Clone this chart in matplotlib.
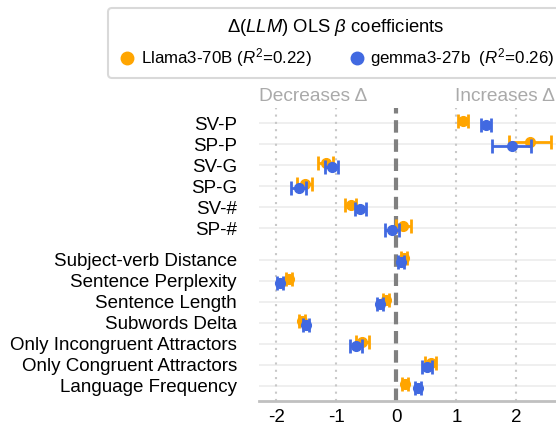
import numpy as np
import matplotlib
matplotlib.use("Agg")
import matplotlib.pyplot as plt
from matplotlib.lines import Line2D

plt.rcParams['font.family'] = ['Liberation Sans', 'DejaVu Sans']
plt.rcParams['mathtext.fontset'] = 'custom'
plt.rcParams['mathtext.rm'] = 'Liberation Sans'
plt.rcParams['mathtext.it'] = 'Liberation Sans:italic'
plt.rcParams['mathtext.bf'] = 'Liberation Sans:bold'

# predictors, top to bottom
features = ['SV-P', 'SP-P', 'SV-G', 'SP-G', 'SV-#', 'SP-#',
            'Subject-verb Distance', 'Sentence Perplexity', 'Sentence Length',
            'Subwords Delta', 'Only Incongruent Attractors',
            'Only Congruent Attractors', 'Language Frequency']

# Llama3-70B coefficients and half-width of CI
llama_coef = [1.11, 2.23, -1.18, -1.53, -0.76, 0.11,
              0.12, -1.79, -0.18, -1.57, -0.57, 0.57, 0.14]
llama_err = [0.08, 0.35, 0.12, 0.12, 0.09, 0.125,
             0.05, 0.05, 0.05, 0.05, 0.11, 0.095, 0.05]

# gemma3-27b coefficients and half-width of CI
gemma_coef = [1.49, 1.92, -1.08, -1.63, -0.60, -0.07,
              0.08, -1.94, -0.28, -1.51, -0.67, 0.51, 0.36]
gemma_err = [0.08, 0.33, 0.11, 0.12, 0.09, 0.12,
             0.05, 0.05, 0.05, 0.05, 0.10, 0.09, 0.05]

xticks = [-2, -1, 0, 1, 2]

orange = '#FFA500'
blue = '#4169E1'

# row positions: gap between the two groups
ypos = np.array([0, 1, 2, 3, 4, 5, 6.5, 7.5, 8.5, 9.5, 10.5, 11.5, 12.5])

fig = plt.figure(figsize=(5.56, 4.28), dpi=100)
ax = fig.add_axes([259/556, 27/428, 297/556, 293/428])

# horizontal row lines
for y in ypos:
    ax.axhline(y, color='#ececec', lw=1.2, zorder=0)
# vertical dotted grid
for x in xticks:
    if x != 0:
        ax.axvline(x, color='#c8c8c8', lw=1.5, ls=(0, (1, 2.5)), zorder=0)
ax.axvline(0, color='#808080', lw=3, ls=(0, (3, 1.6)), zorder=1)

ax.errorbar(llama_coef, ypos - 0.1, xerr=llama_err, fmt='o', color=orange,
            ms=7, elinewidth=2, capsize=5, capthick=2, zorder=3)
ax.errorbar(gemma_coef, ypos + 0.1, xerr=gemma_err, fmt='o', color=blue,
            ms=7, elinewidth=2, capsize=5, capthick=2, zorder=4)

ax.set_xlim(-2.29, 2.66)
ax.set_ylim(13.23, -0.73)
ax.set_yticks(ypos)
ax.set_yticklabels(features, fontsize=13.5)
ax.set_xticks(xticks)
ax.set_xticklabels([str(t) for t in xticks], fontsize=13.5)
ax.tick_params(axis='y', length=0, pad=16)
ax.tick_params(axis='x', length=0, pad=6)
for s in ['top', 'right', 'left']:
    ax.spines[s].set_visible(False)
ax.spines['bottom'].set_color('#c0c0c0')
ax.spines['bottom'].set_linewidth(2)

ax.text(0.0, 1.04, 'Decreases Δ', transform=ax.transAxes, ha='left',
        va='center', fontsize=13.8, color='#aaaaaa')
ax.text(0.995, 1.04, 'Increases Δ', transform=ax.transAxes, ha='right',
        va='center', fontsize=13.8, color='#aaaaaa')

handles = [Line2D([], [], marker='o', ls='', color=orange, ms=9),
           Line2D([], [], marker='o', ls='', color=blue, ms=9)]
labels = ['Llama3-70B ($R^2$=0.22)', 'gemma3-27b  ($R^2$=0.26)']
leg = fig.legend(handles, labels, loc='upper left',
                 bbox_to_anchor=(100/556, 1.0), ncol=2, fontsize=12.2,
                 title=r'Δ($LLM$) OLS $\beta$ coefficients', title_fontsize=13.3,
                 frameon=True, fancybox=True, handletextpad=0.2,
                 columnspacing=2.05, handlelength=1.2, borderpad=0.5)
leg.get_frame().set_edgecolor('#d0d0d0')
leg.get_frame().set_linewidth(1.5)

fig.savefig('out.png', dpi=100)
